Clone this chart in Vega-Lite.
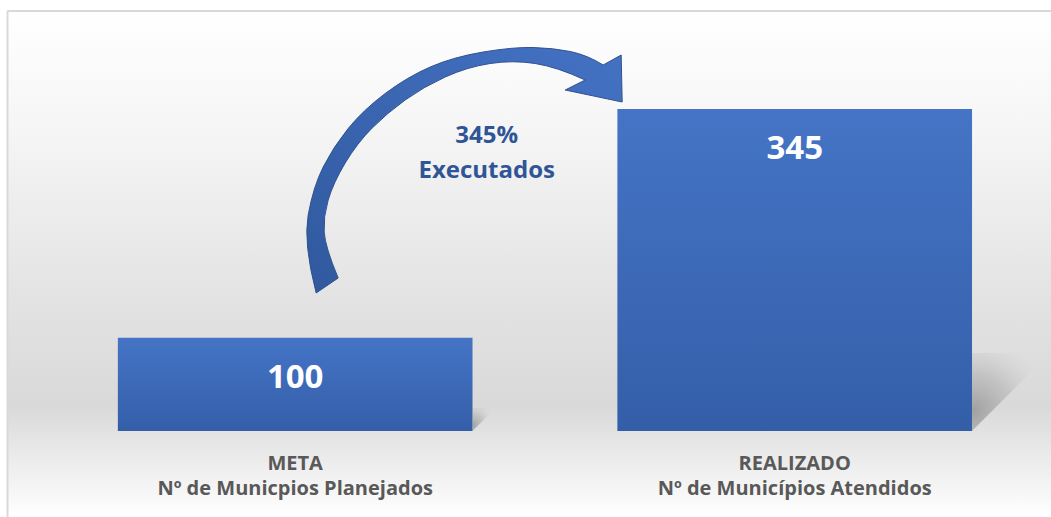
{
  "$schema": "https://vega.github.io/schema/vega-lite/v6.json",
  "width": 1044,
  "height": 506,
  "autosize": {"type": "none"},
  "padding": {"left": 7, "top": 11, "right": 0, "bottom": 0},
  "background": "#ffffff",
  "view": {
    "stroke": null,
    "fill": {
      "gradient": "linear", "x1": 0, "y1": 0, "x2": 0, "y2": 1,
      "stops": [
        {"offset": 0, "color": "#ffffff"},
        {"offset": 0.2, "color": "#f7f7f7"},
        {"offset": 0.57, "color": "#e3e3e3"},
        {"offset": 0.78, "color": "#d9d9d9"},
        {"offset": 1, "color": "#ffffff"}
      ]
    }
  },
  "config": {"font": "Open Sans"},
  "data": {
    "values": [
      {"categoria": "META\nNº de Municpios Planejados", "valor": 100},
      {"categoria": "REALIZADO\nNº de Municípios Atendidos", "valor": 345}
    ]
  },
  "layer": [
    {
      "mark": {"type": "rule", "color": "#d9d9d9", "strokeWidth": 2},
      "encoding": {
        "y": {
          "datum": 450,
          "type": "quantitative",
          "scale": {"domain": [-92.14, 450], "nice": false, "zero": false},
          "axis": {
            "orient": "left", "title": null, "labels": false, "ticks": false,
            "grid": false, "domain": true, "domainColor": "#d9d9d9", "domainWidth": 2
          }
        }
      }
    },
    {
      "mark": {
        "type": "point",
        "shape": "M0,0 L0,-1 L1,-1 Z",
        "filled": true,
        "opacity": 1,
        "strokeWidth": 0,
        "fill": {
          "gradient": "radial", "x1": 0, "y1": 0.75, "x2": 0, "y2": 0.75, "r1": 0, "r2": 1,
          "stops": [
            {"offset": 0, "color": "rgba(110,110,110,0.55)"},
            {"offset": 0.5, "color": "rgba(140,140,140,0.3)"},
            {"offset": 1, "color": "rgba(200,200,200,0)"}
          ]
        }
      },
      "encoding": {
        "x": {"field": "categoria", "type": "nominal", "sort": null, "bandPosition": 1},
        "y": {"datum": 0, "type": "quantitative"},
        "size": {
          "field": "valor", "type": "quantitative", "legend": null,
          "scale": {"type": "pow", "exponent": 2, "domain": [0, 345], "range": [0, 24336]}
        }
      }
    },
    {
      "mark": {
        "type": "bar",
        "color": {
          "gradient": "linear", "x1": 0, "y1": 0, "x2": 0, "y2": 1,
          "stops": [
            {"offset": 0, "color": "#4574c6"},
            {"offset": 1, "color": "#345ea8"}
          ]
        }
      },
      "encoding": {
        "x": {
          "field": "categoria", "type": "nominal", "sort": null,
          "scale": {"paddingInner": 0.29, "paddingOuter": 0.19, "align": 0.584},
          "axis": {
            "orient": "bottom", "offset": -86, "title": null, "domain": false,
            "ticks": false, "tickSize": 0, "grid": false, "labelAngle": 0,
            "labelPadding": 22.5, "labelBaseline": "top", "labelAlign": "center",
            "labelLineHeight": 25, "labelFont": "Open Sans", "labelFontSize": 20,
            "labelFontWeight": "bold", "labelColor": "#595959", "labelLimit": 500,
            "labelExpr": "split(datum.label, '\\n')"
          }
        },
        "y": {"field": "valor", "type": "quantitative"},
        "y2": {"datum": 0}
      }
    },
    {
      "mark": {
        "type": "text", "color": "#ffffff", "font": "Open Sans", "fontSize": 33,
        "fontWeight": "bold", "baseline": "middle", "align": "center", "dy": 40
      },
      "encoding": {
        "x": {"field": "categoria", "type": "nominal", "sort": null},
        "y": {"field": "valor", "type": "quantitative"},
        "text": {"field": "valor", "type": "quantitative"}
      }
    },
    {
      "transform": [{"filter": "indexof(datum.categoria, 'META') == 0"}],
      "mark": {
        "type": "point",
        "shape": "M21,2 Q8,-48 13,-76 Q18,-104 28,-124 Q38,-144 53,-162.5 Q68,-181 90,-197.5 Q112,-214 135,-224 Q158,-234 188,-239 Q218,-244 238,-243.5 Q258,-243 275,-239.5 Q292,-236 308,-226 L326,-236 L327,-189 L270,-201 L290,-211 Q262,-224 240,-227.5 Q218,-231 195,-227.5 Q172,-224 150,-214 Q128,-204 110,-191 Q92,-178 77,-163 Q62,-148 50,-128 Q38,-108 33,-91 Q28,-74 29,-59 Q30,-44 43,-13 Z",
        "size": 4,
        "filled": true,
        "opacity": 1,
        "stroke": "#2f528f",
        "strokeWidth": 1,
        "fill": {
          "gradient": "linear", "x1": 0, "y1": 1, "x2": 1, "y2": 0,
          "stops": [
            {"offset": 0, "color": "#30599e"},
            {"offset": 1, "color": "#4472c4"}
          ]
        }
      },
      "encoding": {
        "x": {"field": "categoria", "type": "nominal", "sort": null},
        "y": {"datum": 150, "type": "quantitative"}
      }
    },
    {
      "transform": [{"filter": "indexof(datum.categoria, 'META') == 0"}],
      "mark": {
        "type": "text", "text": ["345%", "Executados"], "color": "#2f5597",
        "font": "Open Sans", "fontSize": 24, "fontWeight": "bold",
        "align": "center", "baseline": "top", "lineHeight": 35
      },
      "encoding": {
        "x": {"field": "categoria", "type": "nominal", "sort": null, "bandPosition": 1.04},
        "y": {"datum": 329, "type": "quantitative"}
      }
    }
  ]
}
